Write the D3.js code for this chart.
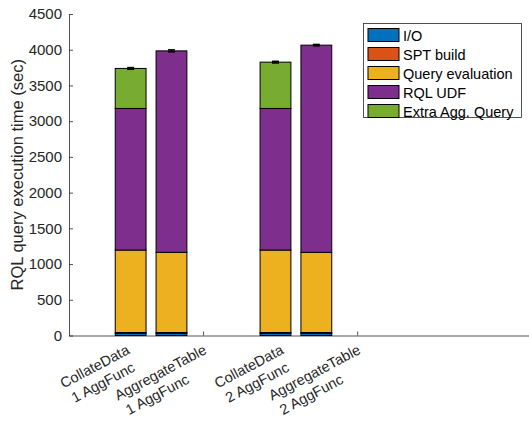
<!DOCTYPE html>
<html>
<head>
<meta charset="utf-8">
<script src="https://cdn.jsdelivr.net/npm/d3@7"></script>
<style>
  body { margin: 0; background: #fff; }
  svg { display: block; }
  text { font-family: "Liberation Sans", Arial, Helvetica, sans-serif; }
</style>
</head>
<body>
<svg id="chart" width="529" height="423"></svg>
<script>
// Categories (two-line tick labels) and where they sit on the x axis
const categories = [
  ["CollateData", "1 AggFunc"],
  ["AggregateTable", "1 AggFunc"],
  ["CollateData", "2 AggFunc"],
  ["AggregateTable", "2 AggFunc"]
];
const tickPositions = [1, 2, 3, 4];
const barPositions = [1.06, 1.59, 2.94, 3.47];

// Stacked components of the query execution time (sec)
const seriesNames = ["I/O", "SPT build", "Query evaluation", "RQL UDF", "Extra Agg. Query"];
const ioTime     = [30, 30, 30, 30];
const sptBuild   = [12, 12, 12, 12];
const queryEval  = [1154, 1122, 1154, 1122];
const rqlUdf     = [1982, 2820, 1982, 2900];
const extraAgg   = [560, 0, 648, 0];
const totalError = [12, 14, 12, 10];

const yTicks = [0, 500, 1000, 1500, 2000, 2500, 3000, 3500, 4000, 4500];
const colors = ["#0072BD", "#D95319", "#EDB120", "#7E2F8E", "#77AC30"];

const seriesValues = [ioTime, sptBuild, queryEval, rqlUdf, extraAgg];
const rows = barPositions.map((p, i) => {
  const r = { pos: p, i };
  seriesNames.forEach((n, k) => r[n] = seriesValues[k][i]);
  return r;
});

const svg = d3.select("#chart");
const plotLeft = 69, plotBottom = 335.5, plotTop = 14;

const x = d3.scaleLinear().domain([0.26, 6.23]).range([plotLeft, 529]);
const y = d3.scaleLinear().domain([0, 4500]).range([plotBottom, plotTop]);
const barW = x(1.4) - x(1);

const axisColor = "#262626";

// X axis (ticks pointing inward, labels drawn separately)
const xAxis = svg.append("g")
  .attr("transform", `translate(0,${plotBottom})`)
  .call(d3.axisBottom(x).tickValues(tickPositions).tickFormat("").tickSizeInner(-4).tickSizeOuter(0));
xAxis.select(".domain").attr("stroke", axisColor).attr("stroke-width", 0.8);
xAxis.selectAll(".tick line").attr("stroke", axisColor).attr("stroke-width", 0.8);

// Stacked bars
const stacked = d3.stack().keys(seriesNames)(rows);
svg.append("g").selectAll("g")
  .data(stacked)
  .join("g")
  .attr("fill", (d, k) => colors[k])
  .selectAll("rect")
  .data(d => d)
  .join("rect")
  .attr("x", d => x(d.data.pos) - barW / 2)
  .attr("width", barW)
  .attr("y", d => y(d[1]))
  .attr("height", d => y(d[0]) - y(d[1]))
  .attr("stroke", "#000")
  .attr("stroke-width", 1);

// Error bars on the totals
const totals = rows.map(r => seriesNames.reduce((s, n) => s + r[n], 0));
const eb = svg.append("g").attr("stroke", "#000").attr("stroke-width", 1.5);
rows.forEach((r, i) => {
  const cx = x(r.pos), hi = y(totals[i] + totalError[i]), lo = y(totals[i] - totalError[i]);
  eb.append("line").attr("x1", cx).attr("x2", cx).attr("y1", hi).attr("y2", lo);
  eb.append("line").attr("x1", cx - 3.5).attr("x2", cx + 3.5).attr("y1", hi).attr("y2", hi);
  eb.append("line").attr("x1", cx - 3.5).attr("x2", cx + 3.5).attr("y1", lo).attr("y2", lo);
});

// Y axis (ticks pointing inward)
const yAxis = svg.append("g")
  .attr("transform", `translate(${plotLeft},0)`)
  .call(d3.axisLeft(y).tickValues(yTicks).tickFormat(d3.format("d"))
    .tickSizeInner(-4).tickSizeOuter(0).tickPadding(8));
yAxis.select(".domain").attr("stroke", axisColor).attr("stroke-width", 0.8);
yAxis.selectAll(".tick line").attr("stroke", axisColor).attr("stroke-width", 0.8);
yAxis.selectAll(".tick text")
  .attr("fill", axisColor)
  .style("font-size", "15px")
  .attr("x", -7);

// Rotated two-line category labels: block right-aligned at the tick,
// lines left-aligned inside the block
categories.forEach((lines, i) => {
  const g = svg.append("g")
    .attr("transform", `translate(${x(tickPositions[i]) + 4.5},353) rotate(-28)`);
  const t1 = g.append("text")
    .attr("text-anchor", "end")
    .attr("fill", axisColor)
    .style("font-size", "14.5px")
    .text(lines[0]);
  const w1 = t1.node().getComputedTextLength();
  g.append("text")
    .attr("x", -w1 + 3)
    .attr("y", 18)
    .attr("fill", axisColor)
    .style("font-size", "14.5px")
    .text(lines[1]);
});

// Y axis title
svg.append("text")
  .attr("transform", `translate(23,${(plotTop + plotBottom) / 2}) rotate(-90)`)
  .attr("text-anchor", "middle")
  .attr("fill", axisColor)
  .style("font-size", "16.5px")
  .text("RQL query execution time (sec)");

// Legend
const lg = svg.append("g");
lg.append("rect")
  .attr("x", 363.5).attr("y", 23.5).attr("width", 158).attr("height", 94)
  .attr("fill", "#fff").attr("stroke", axisColor).attr("stroke-width", 0.8);
seriesNames.forEach((n, k) => {
  const cy = 35 + k * 19;
  lg.append("rect")
    .attr("x", 368).attr("y", cy - 6.5).attr("width", 31).attr("height", 13)
    .attr("fill", colors[k]).attr("stroke", "#000").attr("stroke-width", 1);
  lg.append("text")
    .attr("x", 403).attr("y", cy + 5.5)
    .attr("fill", "#000")
    .style("font-size", "14.5px")
    .text(n);
});
</script>
</body>
</html>
